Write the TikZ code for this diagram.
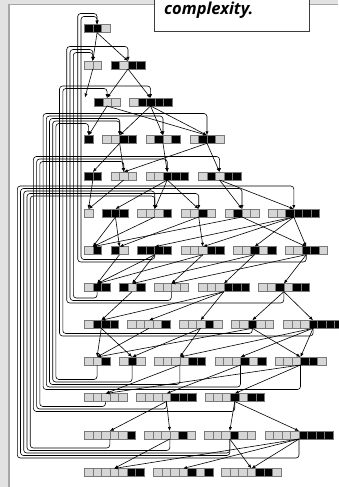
\documentclass[tikz,border=0pt]{standalone}
\usepackage{fontspec}
\newfontfamily\capfont{Open Sans}
\usetikzlibrary{arrows.meta}
\definecolor{cB}{HTML}{000000}
\definecolor{cG}{HTML}{D6D6D6}
\definecolor{cellln}{HTML}{7A7A7A}
\definecolor{framegray}{HTML}{E2E2E2}
\definecolor{frameln}{HTML}{A6A6A6}
\definecolor{boxln}{HTML}{3C3C3C}
\tikzset{
 cellsty/.style={draw=cellln, line width=0.6pt},
 strbox/.style={inner sep=0pt, outer sep=0pt, minimum height=8pt, anchor=west},
 arr/.style={-{Latex[length=4pt,width=3.2pt]}, line width=0.6pt, black},
 looparr/.style={arr, rounded corners=3pt},
 capbox/.style={draw=boxln, fill=white, line width=0.9pt},
}
\newcommand\strnode[5]{%
  \node[strbox, minimum width={#4*8.5pt}] (#1) at (#2,#3) {};
  \foreach \cc [count=\ii from 0] in {#5} {\draw[cellsty, fill=\cc] ({#2+\ii*8.5},{#3-4}) rectangle ++(8.5,8);}
}
\begin{document}
\begin{tikzpicture}[x=1pt,y=-1pt]
\useasboundingbox (0,0) rectangle (338,487);
% frame
\fill[framegray] (0,0) rectangle (338,487);
\fill[white] (9,4.5) rectangle (338,487);
\draw[frameln, line width=1.2pt] (9,487) -- (9,4.5) -- (338,4.5);
% caption box
\draw[capbox] (154.3,-3) rectangle (309,31);
\node[anchor=base west, inner sep=0pt, font=\capfont\bfseries\itshape\fontsize{16.5}{19}\selectfont] (cap) at (164,15) {complexity.};
% string nodes
\strnode{a0}{84.3}{28.7}{3}{cB,cB,cG}
\strnode{b0}{84.3}{65}{2}{cG,cG}
\strnode{b1}{111}{65}{4}{cB,cG,cB,cB}
\coordinate (c0) at (85,97.5);
\strnode{c1}{94.3}{102}{3}{cB,cG,cG}
\strnode{c2}{129.3}{102}{5}{cG,cB,cB,cB,cB}
\strnode{d0}{84.3}{139.3}{1}{cB}
\strnode{d1}{102.7}{139.3}{4}{cG,cG,cB,cB}
\strnode{d2}{146}{139.3}{4}{cG,cB,cG,cB}
\strnode{d3}{190}{139.3}{4}{cG,cB,cB,cG}
\strnode{e0}{84.3}{176}{2}{cB,cB}
\strnode{e1}{111}{176}{3}{cG,cG,cG}
\strnode{e2}{146}{176}{5}{cG,cG,cB,cB,cB}
\strnode{e3}{198.3}{176}{5}{cG,cB,cG,cB,cB}
\strnode{f0}{84.3}{213}{1}{cG}
\strnode{f1}{102.7}{213}{3}{cB,cB,cB}
\strnode{f2}{137.7}{213}{4}{cG,cG,cG,cB}
\strnode{f3}{181.7}{213}{4}{cG,cG,cB,cG}
\strnode{f4}{225}{213}{4}{cG,cB,cG,cG}
\strnode{f5}{268.3}{213}{6}{cG,cG,cB,cB,cB,cB}
\strnode{g0}{84.3}{250.7}{2}{cG,cB}
\strnode{g1}{111}{250.7}{2}{cB,cG}
\strnode{g2}{137.7}{250.7}{4}{cB,cB,cB,cB}
\strnode{g3}{181.7}{250.7}{5}{cG,cG,cG,cB,cB}
\strnode{g4}{233.3}{250.7}{5}{cG,cG,cB,cG,cB}
\strnode{g5}{285}{250.7}{5}{cG,cG,cB,cB,cG}
\strnode{h0}{84.3}{287.7}{3}{cG,cB,cB}
\strnode{h1}{119.3}{287.7}{3}{cB,cG,cB}
\strnode{h2}{154.3}{287.7}{4}{cG,cG,cG,cG}
\strnode{h3}{198.3}{287.7}{6}{cG,cG,cG,cB,cB,cB}
\strnode{h4}{258.3}{287.7}{6}{cG,cG,cB,cG,cB,cB}
\strnode{i0}{84.3}{324.3}{4}{cG,cB,cB,cB}
\strnode{i1}{127.7}{324.3}{5}{cG,cG,cG,cG,cB}
\strnode{i2}{179.3}{324.3}{5}{cG,cG,cG,cB,cG}
\strnode{i3}{231}{324.3}{5}{cG,cG,cB,cG,cG}
\strnode{i4}{283.3}{324.3}{7}{cG,cG,cG,cB,cB,cB,cB}
\strnode{j0}{84.3}{361}{3}{cG,cG,cB}
\strnode{j1}{119.3}{361}{3}{cG,cB,cG}
\strnode{j2}{154.3}{361}{6}{cG,cG,cG,cG,cB,cB}
\strnode{j3}{215}{361}{6}{cG,cG,cG,cB,cG,cB}
\strnode{j4}{275}{361}{6}{cG,cG,cG,cB,cB,cG}
\strnode{k0}{84.3}{397.5}{5}{cG,cG,cG,cG,cG}
\strnode{k1}{136.7}{397.5}{7}{cG,cG,cG,cG,cB,cB,cB}
\strnode{k2}{205}{397.5}{7}{cG,cG,cG,cB,cG,cB,cB}
\strnode{l0}{84.3}{435}{6}{cG,cG,cG,cG,cG,cB}
\strnode{l1}{144.3}{435}{6}{cG,cG,cG,cG,cB,cG}
\strnode{l2}{204.3}{435}{6}{cG,cG,cG,cB,cG,cG}
\strnode{l3}{265}{435}{8}{cG,cG,cG,cG,cB,cB,cB,cB}
\strnode{m0}{84.3}{472.5}{7}{cG,cG,cG,cG,cG,cB,cB}
\strnode{m1}{153.3}{472.5}{7}{cG,cG,cG,cG,cB,cG,cB}
\strnode{m2}{221.7}{472.5}{7}{cG,cG,cG,cG,cB,cB,cG}
% tree edges
\draw[arr] (b0.south) -- (c0);
\foreach \p/\c in {a0/b0,a0/b1,b1/c2,b1/c1,
  c1/d3,c1/d0,c2/d1,c2/d2,c2/d3,
  d1/e0,d1/e1,d2/e2,d3/e1,d3/e3,
  e0/f0,e1/f0,e2/f1,e2/f2,e2/f3,e3/f5,e3/f4,
  f1/g0,f1/g1,f2/g0,f3/g1,f3/g3,f4/g5,f4/g0,f5/g2,f5/g3,f5/g4,f5/g5,
  g1/h0,g2/h0,g2/h1,g3/h0,g3/h2,g4/h1,g4/h3,g5/h2,g5/h4,
  h1/i0,h3/i0,h3/i2,h3/i1,h4/i4,h4/i3,
  i0/j0,i0/j1,i1/j0,i2/j1,i2/j2,i3/j4,i3/j0,i4/j2,i4/j3,i4/j4,
  j2/k0,j3/k1,j4/k0,j4/k2,
  k1/l1,k1/l0,k2/l3,k2/l2,
  l1/m0,l2/m2,l3/m0,l3/m1,l3/m2}
  {\draw[arr] (\p.south) -- (\c.north);}
% loop-back edges
\foreach \s/\t/\l/\b/\u in {
  g5/a0/77.7/262/13.5, g2/a0/81.0/259.5/16.5,
  h4/b1/66.7/303/46.5, h2/b0/70.0/300.5/49.5, h0/b0/73.3/298/52.5,
  i4/c2/59.5/336/86, i3/c1/62.8/333.5/88.5,
  j4/d3/43.1/389.5/113.5, j3/d2/46.3/387/116, j2/d1/49.5/384.5/118.5,
  j1/d1/52.7/382/121, j0/d0/55.9/379.5/123.5,
  k2/e3/33.4/411.5/156.5, k1/e2/36.6/409/159, k0/e1/39.8/406.5/161.5,
  l3/f5/17.3/458/186, l2/f4/20.5/455.5/188.5, l2/f2/23.7/453/191,
  l1/f3/27.0/450.5/193.5, l0/f2/30.2/448/196}
  {\draw[looparr] (\s.south) |- (\l,\b) |- (\t.north |- 0,\u) -- (\t.north);}
\end{tikzpicture}
\end{document}
